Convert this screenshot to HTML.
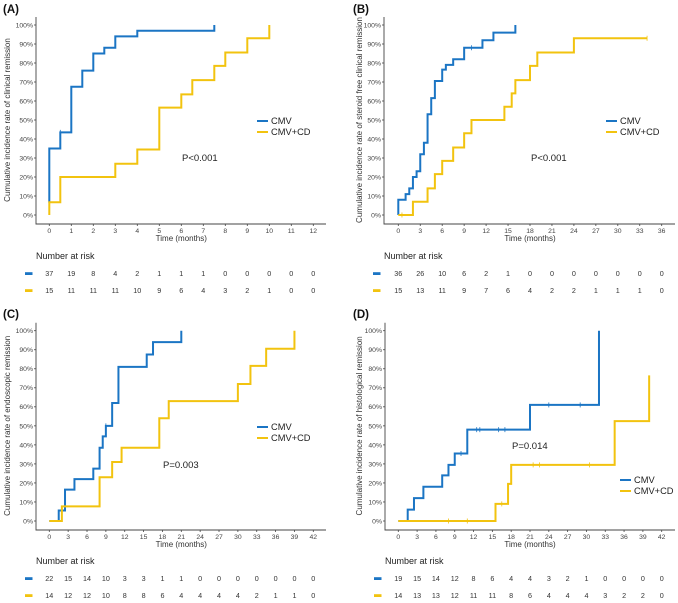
<!DOCTYPE html>
<html><head><meta charset="utf-8"><style>
body{margin:0;background:#fff;}
svg{display:block;font-family:"Liberation Sans",Arial,sans-serif;}
</style></head><body>
<svg id="fig" width="678" height="603" viewBox="0 0 678 603" xmlns="http://www.w3.org/2000/svg"></svg>
<script>
// ---- Panel A data ----
const aCmv = [[0,0.065],[0,0.35],[0.5,0.435],[1,0.675],[1.5,0.76],[2,0.85],[2.5,0.88],[3,0.94],[4,0.97],[7.5,1.0]];
const aCmvEnd = 7.5;
const aCmvCens = [[0.5,0.435]];
const aCd = [[0,0],[0,0.067],[0.5,0.2],[3,0.27],[4,0.345],[5,0.565],[6,0.635],[6.5,0.71],[7.5,0.785],[8,0.855],[9,0.93],[10,1.0]];
const aCdEnd = 10;
const aCdCens = [];
const aTicks = [0,1,2,3,4,5,6,7,8,9,10,11,12];
const aRiskCmv = [37,19,8,4,2,1,1,1,0,0,0,0,0];
const aRiskCd = [15,11,11,11,10,9,6,4,3,2,1,0,0];
// ---- Panel B data ----
const bCmv = [[0,0],[0,0.08],[1,0.11],[1.5,0.14],[2,0.2],[2.5,0.23],[3,0.32],[3.5,0.38],[4,0.53],[4.5,0.615],[5,0.705],[6,0.765],[6.5,0.79],[7.5,0.82],[9,0.88],[11.5,0.92],[13,0.96],[16,1.0]];
const bCmvEnd = 16;
const bCmvCens = [[10,0.88]];
const bCd = [[0,0],[2,0.07],[4,0.14],[5,0.215],[6,0.285],[7.5,0.355],[9,0.43],[10,0.5],[14.5,0.57],[15.5,0.64],[16,0.71],[18,0.785],[19,0.855],[24,0.93]];
const bCdEnd = 34;
const bCdCens = [[0.5,0],[34,0.93]];
const bTicks = [0,3,6,9,12,15,18,21,24,27,30,33,36];
const bRiskCmv = [36,26,10,6,2,1,0,0,0,0,0,0,0];
const bRiskCd = [15,13,11,9,7,6,4,2,2,1,1,1,0];
// ---- Panel C data ----
const cCmv = [[0,0],[1.5,0.055],[2.5,0.165],[4,0.22],[7,0.275],[8,0.385],[8.5,0.445],[9,0.5],[10,0.62],[11,0.81],[15.5,0.875],[16.5,0.94],[21,1.0]];
const cCmvEnd = 21;
const cCmvCens = [[9,0.5]];
const cCd = [[0,0],[2,0.077],[8,0.23],[10,0.31],[11.5,0.385],[17.5,0.54],[19,0.63],[30,0.72],[32,0.815],[34.5,0.905],[39,1.0]];
const cCdEnd = 39;
const cCdCens = [];
const cTicks = [0,3,6,9,12,15,18,21,24,27,30,33,36,39,42];
const cRiskCmv = [22,15,14,10,3,3,1,1,0,0,0,0,0,0,0];
const cRiskCd = [14,12,12,10,8,8,6,4,4,4,4,2,1,1,0];
// ---- Panel D data ----
const dCmv = [[0,0],[1.5,0.06],[2.5,0.12],[4,0.18],[7,0.24],[8,0.295],[9,0.355],[11,0.48],[21,0.61],[32,1.0]];
const dCmvEnd = 32;
const dCmvCens = [[10,0.355],[12.5,0.48],[13,0.48],[16,0.48],[17,0.48],[24,0.61],[29,0.61]];
const dCd = [[0,0],[15.5,0.09],[17.5,0.195],[18,0.295],[34.5,0.525],[40,0.765]];
const dCdEnd = 40;
const dCdCens = [[8,0],[11,0],[16.5,0.09],[21.5,0.295],[22.5,0.295],[30.5,0.295]];
const dTicks = [0,3,6,9,12,15,18,21,24,27,30,33,36,39,42];
const dRiskCmv = [19,15,14,12,8,6,4,4,3,2,1,0,0,0,0];
const dRiskCd = [14,13,13,12,11,11,8,6,4,4,4,3,2,2,0];
const yTicks = [0,0.1,0.2,0.3,0.4,0.5,0.6,0.7,0.8,0.9,1.0];

const BLUE="#1b75c4", YEL="#f2c30f", NS="http://www.w3.org/2000/svg";
const svg=document.getElementById('fig');
function mk(tag,attrs,parent,txt){const e=document.createElementNS(NS,tag);for(const k in attrs)e.setAttribute(k,attrs[k]);if(txt!==undefined)e.textContent=txt;(parent||svg).appendChild(e);return e;}

function panel(p){
  const g=mk('g',{});
  
  
  const xmax=p.ticks[p.ticks.length-1];
  const X=t=>p.x0+(t-p.ticks[0])/(xmax-p.ticks[0])*(p.x1-p.x0);
  const Y=v=>p.y0-v*(p.y0-p.y100);
  let t=mk('text',{x:p.lx,y:p.ly,'font-size':11.5,'font-weight':'bold',fill:'#111'},g,'('+p.id+')');
  
  let ax=mk('path',{d:`M${p.ax},${p.y100-8} V${p.ab} H${p.ar}`,stroke:'#444','stroke-width':0.9,fill:'none'},g);
  
  yTicks.forEach(v=>{
    mk('line',{x1:p.ax-2,x2:p.ax,y1:Y(v),y2:Y(v),stroke:'#444','stroke-width':0.8},g);
    const l=mk('text',{x:p.ax-3,y:Y(v)+2.4,'font-size':6.8,'text-anchor':'end',fill:'#444'},g,Math.round(v*100)+'%');
    
  });
  p.ticks.forEach(v=>{
    mk('line',{x1:X(v),x2:X(v),y1:p.ab,y2:p.ab+2,stroke:'#444','stroke-width':0.8},g);
    const l=mk('text',{x:X(v),y:p.ab+9,'font-size':6.8,'text-anchor':'middle',fill:'#444'},g,v);
    
  });
  let xt=mk('text',{x:(p.x0+p.x1)/2,y:p.ab+17,'font-size':8,'text-anchor':'middle',fill:'#333'},g,'Time (months)');
  
  const cy=(p.y0+p.y100)/2;
  let yt=mk('text',{x:p.ytx,y:cy,'font-size':8,'text-anchor':'middle',fill:'#333',transform:`rotate(-90 ${p.ytx} ${cy})`},g,p.ytitle);
  
  [[p.cmv,p.cmvEnd,p.cmvCens,BLUE,'cmv'],[p.cd,p.cdEnd,p.cdCens,YEL,'cmv-cd']].forEach(([pts,end,cens,col,nm])=>{
    let d=`M${X(pts[0][0])},${Y(pts[0][1])}`;
    for(let i=1;i<pts.length;i++){d+=` H${X(pts[i][0])} V${Y(pts[i][1])}`;}
    d+=` H${X(end)}`;
    const c=mk('path',{d,stroke:col,'stroke-width':2,fill:'none'},g);
    
    cens.forEach(([tt,v])=>{
      const m=mk('line',{x1:X(tt),x2:X(tt),y1:Y(v)-2.5,y2:Y(v)+2.5,stroke:col,'stroke-width':0.8},g);
      
    });
  });
  [['CMV',BLUE,0],['CMV+CD',YEL,1]].forEach(([lab,col,i])=>{
    const yy=p.legy+i*11;
    const lg=mk('g',{},g);
    
    mk('line',{x1:p.legx-14,x2:p.legx-3,y1:yy-3,y2:yy-3,stroke:col,'stroke-width':2},lg);
    mk('text',{x:p.legx,y:yy,'font-size':9.3,fill:'#222'},lg,lab);
  });
  let pv=mk('text',{x:p.px,y:p.py,'font-size':9.5,fill:'#222'},g,p.pval);
  
  let nr=mk('text',{x:p.ax,y:p.nry,'font-size':9,fill:'#222'},g,'Number at risk');
  
  [[p.rCmv,BLUE,p.r1],[p.rCd,YEL,p.r2]].forEach(([arr,col,yy],i)=>{
    const rg=mk('g',{},g);
    
    mk('rect',{x:p.ax-11,y:yy-3.8,width:7.5,height:2.8,fill:col},rg);
    arr.forEach((n,j)=>mk('text',{x:X(p.ticks[j]),y:yy,'font-size':7.2,'text-anchor':'middle',fill:'#333'},rg,n));
  });
}
panel({id:'A',lx:3,ly:13,ax:36,ab:224,ar:326,x0:49.3,x1:313.3,y0:215,y100:25,ticks:aTicks,ytx:10,
  ytitle:'Cumulative incidence rate of clinical remission',cmv:aCmv,cmvEnd:aCmvEnd,cmvCens:aCmvCens,cd:aCd,cdEnd:aCdEnd,cdCens:aCdCens,
  legx:271,legy:124,px:182,py:161,pval:'P<0.001',nry:259,r1:276,r2:293,rCmv:aRiskCmv,rCd:aRiskCd});
panel({id:'B',lx:353,ly:13,ax:384,ab:224,ar:675,x0:398.3,x1:661.7,y0:215,y100:25,ticks:bTicks,ytx:362,
  ytitle:'Cumulative incidence rate of steroid free clinical remission',cmv:bCmv,cmvEnd:bCmvEnd,cmvCens:bCmvCens,cd:bCd,cdEnd:bCdEnd,cdCens:bCdCens,
  legx:620,legy:124,px:531,py:161,pval:'P<0.001',nry:259,r1:276,r2:293,rCmv:bRiskCmv,rCd:bRiskCd});
panel({id:'C',lx:3,ly:318,ax:36,ab:530,ar:326,x0:49.3,x1:313.3,y0:521,y100:330.7,ticks:cTicks,ytx:10,
  ytitle:'Cumulative incidence rate of endoscopic remission',cmv:cCmv,cmvEnd:cCmvEnd,cmvCens:cCmvCens,cd:cCd,cdEnd:cCdEnd,cdCens:cCdCens,
  legx:271,legy:430,px:163,py:468,pval:'P=0.003',nry:564,r1:581,r2:598,rCmv:cRiskCmv,rCd:cRiskCd});
panel({id:'D',lx:353,ly:318,ax:385,ab:530,ar:675,x0:398.3,x1:661.7,y0:521,y100:330.7,ticks:dTicks,ytx:362,
  ytitle:'Cumulative incidence rate of histological remission',cmv:dCmv,cmvEnd:dCmvEnd,cmvCens:dCmvCens,cd:dCd,cdEnd:dCdEnd,cdCens:dCdCens,
  legx:634,legy:483,px:512,py:449,pval:'P=0.014',nry:564,r1:581,r2:598,rCmv:dRiskCmv,rCd:dRiskCd});
</script>
</body></html>
